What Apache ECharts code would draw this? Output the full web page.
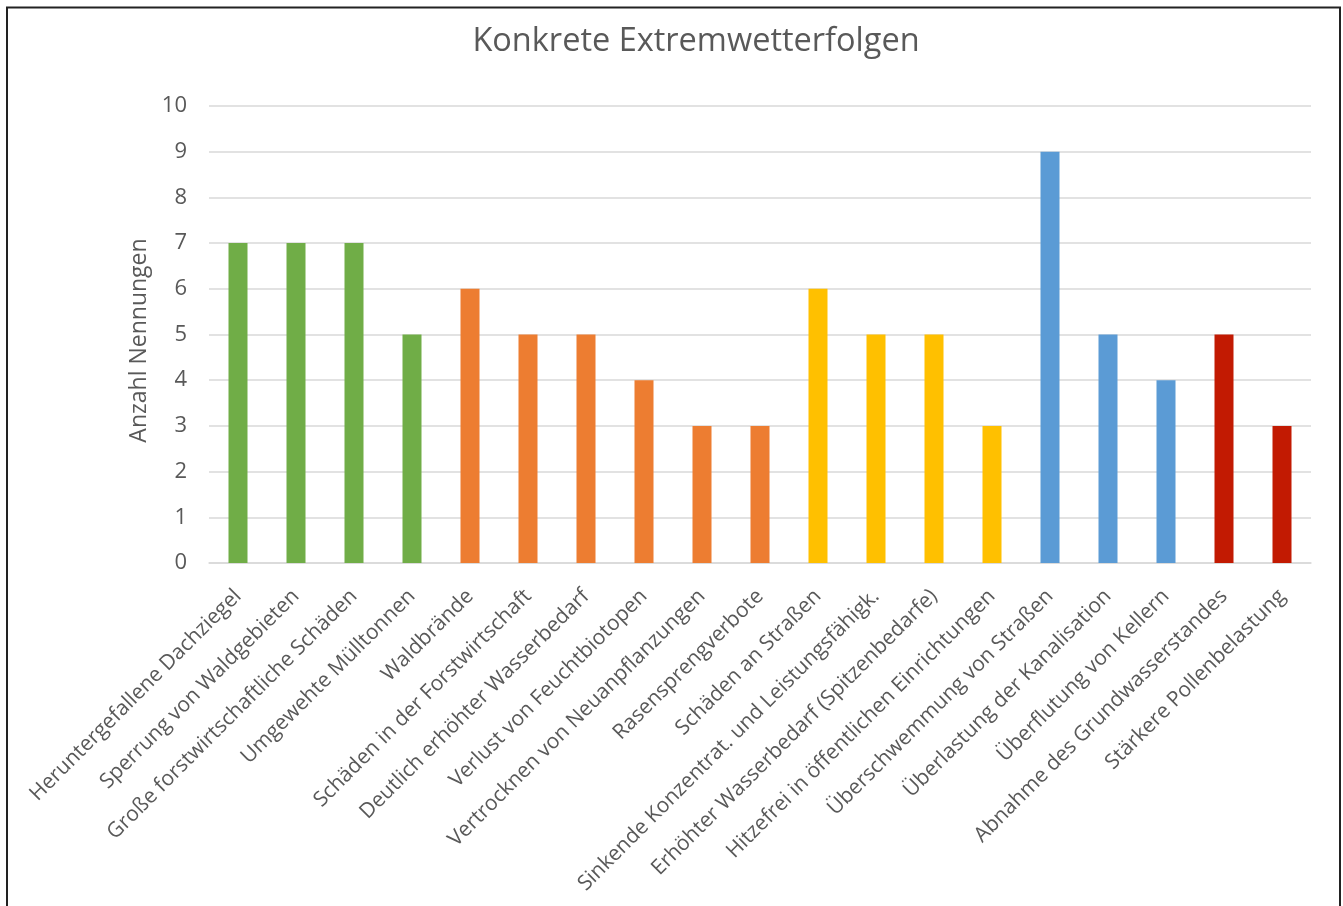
<!DOCTYPE html>
<html><head><meta charset="utf-8">
<script src="https://cdn.jsdelivr.net/npm/echarts@6/dist/echarts.min.js"></script>
<style>html,body{margin:0;padding:0;background:#fff}#c{width:1343px;height:906px}</style>
</head><body><div id="c"></div>
<script>
const categories = [
  'Heruntergefallene Dachziegel',
  'Sperrung von Waldgebieten',
  'Große forstwirtschaftliche Schäden',
  'Umgewehte Mülltonnen',
  'Waldbrände',
  'Schäden in der Forstwirtschaft',
  'Deutlich erhöhter Wasserbedarf',
  'Verlust von Feuchtbiotopen',
  'Vertrocknen von Neuanpflanzungen',
  'Rasensprengverbote',
  'Schäden an Straßen',
  'Sinkende Konzentrat. und Leistungsfähigk.',
  'Erhöhter Wasserbedarf (Spitzenbedarfe)',
  'Hitzefrei in öffentlichen Einrichtungen',
  'Überschwemmung von Straßen',
  'Überlastung der Kanalisation',
  'Überflutung von Kellern',
  'Abnahme des Grundwasserstandes',
  'Stärkere Pollenbelastung'
];
const values = [7, 7, 7, 5, 6, 5, 5, 4, 3, 3, 6, 5, 5, 3, 9, 5, 4, 5, 3];
const groups = ['wind','wind','wind','wind','trocken','trocken','trocken','trocken','trocken','trocken','hitze','hitze','hitze','hitze','regen','regen','regen','sonst','sonst'];
const yTicks = [0, 1, 2, 3, 4, 5, 6, 7, 8, 9, 10];

const groupColor = {wind:'#70AD47', trocken:'#ED7D31', hitze:'#FFC000', regen:'#5B9BD5', sonst:'#C21A02'};
const font = '"Open Sans", sans-serif';
const chart = echarts.init(document.getElementById('c'));
chart.setOption({
  animation: false,
  backgroundColor: '#fff',
  title: {
    text: 'Konkrete Extremwetterfolgen',
    left: 691, top: 20, textAlign: 'center',
    textStyle: {fontFamily: font, fontSize: 32.5, fontWeight: 'normal', color: '#595959'}
  },
  graphic: [{
    type: 'rect', shape: {x: 7, y: 7.5, width: 1333, height: 1000},
    style: {fill: 'none', stroke: '#222', lineWidth: 2}, z: 100
  }],
  grid: {left: 209, right: 32, top: 106, bottom: 343, containLabel: false},
  xAxis: {
    type: 'category', data: categories,
    axisTick: {show: false},
    axisLine: {lineStyle: {color: '#d9d9d9', width: 1.5}},
    axisLabel: {rotate: 45, interval: 0, margin: 30, color: '#595959', fontFamily: font, fontSize: 21}
  },
  yAxis: {
    type: 'value', min: yTicks[0], max: yTicks[yTicks.length - 1], interval: 1,
    name: 'Anzahl Nennungen', nameLocation: 'middle', nameGap: 46, nameRotate: 90,
    nameTextStyle: {fontFamily: font, fontSize: 23, color: '#595959', padding: [0, 12, 0, 0]},
    axisLine: {show: false}, axisTick: {show: false},
    splitLine: {lineStyle: {color: '#d9d9d9', width: 1.5}},
    axisLabel: {color: '#595959', fontFamily: font, fontSize: 22, margin: 22}
  },
  series: [{
    type: 'bar',
    data: values.map((v, i) => ({value: v, itemStyle: {color: groupColor[groups[i]]}})),
    barWidth: 19
  }]
});
</script></body></html>
